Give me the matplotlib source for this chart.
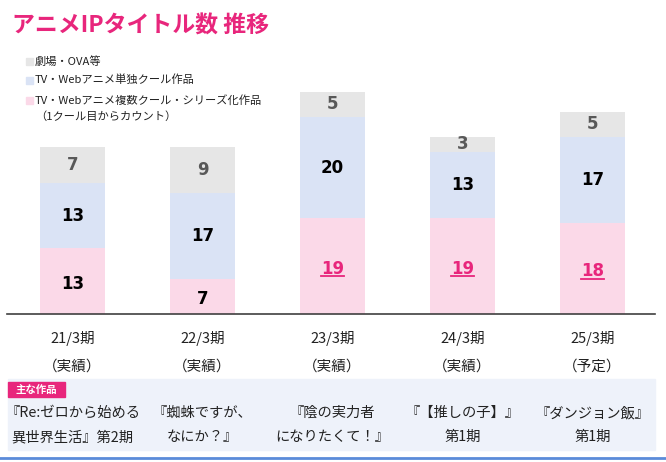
import matplotlib
matplotlib.use('Agg')
import matplotlib.pyplot as plt
from matplotlib.patches import Rectangle
from matplotlib.lines import Line2D

plt.rcParams['font.family'] = ['Noto Sans CJK JP', 'DejaVu Sans']

# data
periods = ['21/3期', '22/3期', '23/3期', '24/3期', '25/3期']
status = ['（実績）', '（実績）', '（実績）', '（実績）', '（予定）']
multi_cour = [13, 7, 19, 19, 18]
single_cour = [13, 17, 20, 13, 17]
movie_ova = [7, 9, 5, 3, 5]
works_line1 = ['『Re:ゼロから始める', '『蜘蛛ですが、', '『陰の実力者', '『【推しの子】』', '『ダンジョン飯』']
works_line2 = ['異世界生活』第2期', 'なにか？』', 'になりたくて！』', '第1期', '第1期']
legend_labels = ['劇場・OVA等', 'TV・Webアニメ単独クール作品', 'TV・Webアニメ複数クール・シリーズ化作品']
highlight = [False, False, True, True, True]

PINK = '#fbd9e8'
BLUE = '#dae3f5'
GRAY = '#e6e6e6'
ACCENT = '#e8267c'

W, H = 666, 462
fig = plt.figure(figsize=(6.66, 4.62), dpi=100)

def fx(px):
	return px / W

def fy(py):
	return 1 - py / H

# main axes: baseline at y=314, left 7, right 655
ax = fig.add_axes([fx(7), fy(314), fx(655 - 7), (314 - 80) / H])
x = list(range(len(periods)))
ax.bar(x, multi_cour, width=0.5, color=PINK)
ax.bar(x, single_cour, width=0.5, bottom=multi_cour, color=BLUE)
bottoms = [a + b for a, b in zip(multi_cour, single_cour)]
ax.bar(x, movie_ova, width=0.5, bottom=bottoms, color=GRAY)
ax.set_xlim(-0.504, 4.48)
ax.set_ylim(0, 234 / 5.05)
for s in ['top', 'right', 'left']:
	ax.spines[s].set_visible(False)
ax.spines['bottom'].set_color('#404040')
ax.spines['bottom'].set_linewidth(1.2)
ax.set_xticks([])
ax.set_yticks([])

num_font = dict(family='DejaVu Sans', fontweight='bold', fontsize=12, ha='center', va='center')
pink_texts = []
for i in x:
	t = ax.text(i, multi_cour[i] / 2 - 0.5, str(multi_cour[i]),
		color=ACCENT if highlight[i] else 'black', **num_font)
	if highlight[i]:
		pink_texts.append(t)
	ax.text(i, multi_cour[i] + single_cour[i] / 2, str(single_cour[i]), color='black', **num_font)
	ax.text(i, bottoms[i] + movie_ova[i] / 2 + 0.1, str(movie_ova[i]), color='#595959', **num_font)

# underline for highlighted numbers
fig.canvas.draw()
r = fig.canvas.get_renderer()
for t in pink_texts:
	bb = t.get_window_extent(renderer=r)
	yy = bb.y0 + 1.5
	fig.add_artist(Line2D([bb.x0 / W, bb.x1 / W], [yy / H, yy / H],
		color=ACCENT, lw=1.3, transform=fig.transFigure))

# title
fig.text(fx(12), fy(26), 'アニメIPタイトル数 推移', color=ACCENT, fontsize=16.5,
	fontweight='bold', ha='left', va='center')

# legend
leg_y = [61, 80, 100]
leg_c = [GRAY, BLUE, PINK]
for yy, c, lab in zip(leg_y, leg_c, legend_labels):
	fig.add_artist(Rectangle((fx(26), fy(yy + 3.5)), 7 / W, 7 / H, color=c,
		transform=fig.transFigure))
	fig.text(fx(35), fy(yy), lab, fontsize=8.1, ha='left', va='center', color='#222222')
fig.text(fx(35), fy(117), '（1クール目からカウント）', fontsize=8.1, ha='left', va='center', color='#222222')

# category labels
for i in x:
	xc = ax.transData.transform((i, 0))[0] / W
	fig.text(xc, fy(338), periods[i], fontsize=10.5, ha='center', va='center', color='#222222')
	fig.text(xc, fy(367), status[i], fontsize=10.5, ha='center', va='center', color='#222222')

# works box
fig.add_artist(Rectangle((fx(8), fy(450)), (655 - 8) / W, (450 - 379) / H,
	color='#eef2fa', transform=fig.transFigure, zorder=0))
fig.add_artist(Rectangle((fx(8), fy(397)), (65 - 8) / W, (397 - 382) / H,
	color=ACCENT, transform=fig.transFigure))
fig.text(fx(36.5), fy(389.5), '主な作品', fontsize=7.5, fontweight='bold', color='white',
	ha='center', va='center')
for i in x:
	xc = ax.transData.transform((i, 0))[0] / W
	fig.text(xc, fy(413), works_line1[i], fontsize=10.3, ha='center', va='center', color='#222222')
	fig.text(xc, fy(437), works_line2[i], fontsize=10.3, ha='center', va='center', color='#222222')

# bottom rule
fig.add_artist(Line2D([0, 1], [fy(457.5), fy(457.5)], color='#5b8bd9', lw=2,
	transform=fig.transFigure))

fig.savefig('out.png', dpi=100)
